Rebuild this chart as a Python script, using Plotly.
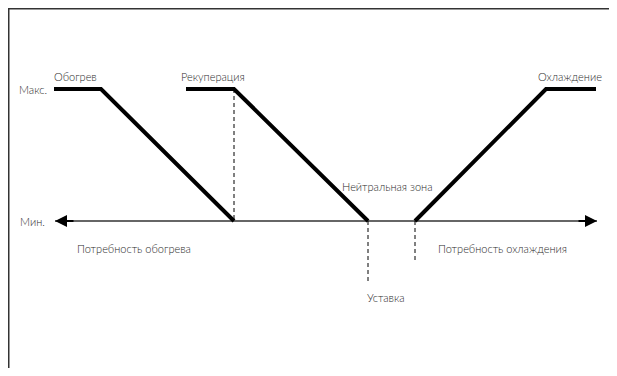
import plotly.graph_objects as go

# уровни выхода: Мин. = 0, Макс. = 1
heat_x = [54, 101, 234]
heat_y = [1, 1, 0]
recup_x = [186, 234, 368]
recup_y = [1, 1, 0]
cool_x = [415, 546, 596]
cool_y = [0, 1, 1]

axis_x = [55, 597]

# пунктирные вертикали
dash_x = [234, 368, 415]
dash_top = [1, 0, 0]
dash_bottom = [0, -0.462, -0.311]

labels = [
    ("Обогрев", 75, 1.098),
    ("Рекуперация", 213, 1.098),
    ("Охлаждение", 570, 1.098),
    ("Макс.", 33, 1.0),
    ("Мин.", 32, 0.0),
    ("Потребность обогрева", 134, -0.212),
    ("Нейтральная зона", 387, 0.258),
    ("Потребность охлаждения", 502, -0.212),
    ("Уставка", 386, -0.576),
]

FONT = "Lato, sans-serif"

fig = go.Figure()

# горизонтальная ось
fig.add_trace(go.Scatter(x=axis_x, y=[0, 0], mode='lines',
                         line=dict(color='#666666', width=2), hoverinfo='skip'))

for i in range(len(dash_x)):
    fig.add_trace(go.Scatter(x=[dash_x[i], dash_x[i]], y=[dash_top[i], dash_bottom[i]],
                             mode='lines', line=dict(color='black', width=1, dash='4px,3px'),
                             hoverinfo='skip'))

for xs, ys in [(heat_x, heat_y), (recup_x, recup_y), (cool_x, cool_y)]:
    fig.add_trace(go.Scatter(x=xs, y=ys, mode='lines',
                             line=dict(color='black', width=4), hoverinfo='skip'))

# стрелки на концах оси
fig.add_annotation(x=axis_x[0], y=0, ax=axis_x[0] + 20, ay=0, axref='x', ayref='y',
                   xref='x', yref='y', showarrow=True, arrowhead=2, arrowsize=1.2,
                   arrowwidth=2, arrowcolor='black', text='')
fig.add_annotation(x=axis_x[1], y=0, ax=axis_x[1] - 20, ay=0, axref='x', ayref='y',
                   xref='x', yref='y', showarrow=True, arrowhead=2, arrowsize=1.2,
                   arrowwidth=2, arrowcolor='black', text='')

for text, x, y in labels:
    fig.add_annotation(x=x, y=y, text=text, showarrow=False, xref='x', yref='y',
                       font=dict(family=FONT, size=11, color='#2a2a2a', weight=300))

# рамка (страница имеет отступ 8px, поэтому рамка по краю фигуры)
H = 360
fig.add_shape(type='line', xref='paper', yref='paper', x0=0, x1=1, y0=1 - 0.75/H, y1=1 - 0.75/H,
              line=dict(color='#333333', width=1.5))
fig.add_shape(type='line', xref='paper', yref='paper', x0=0.75/601, x1=0.75/601, y0=0, y1=1,
              line=dict(color='#333333', width=1.5))

fig.update_layout(
    width=601, height=H,
    margin=dict(l=0, r=0, t=0, b=0),
    plot_bgcolor='white', paper_bgcolor='white',
    showlegend=False,
    xaxis=dict(range=[8, 609], visible=False, fixedrange=True),
    yaxis=dict(range=[(221 - 8 - H)/132, 213/132], visible=False, fixedrange=True),
)

fig.write_html("out.html")
